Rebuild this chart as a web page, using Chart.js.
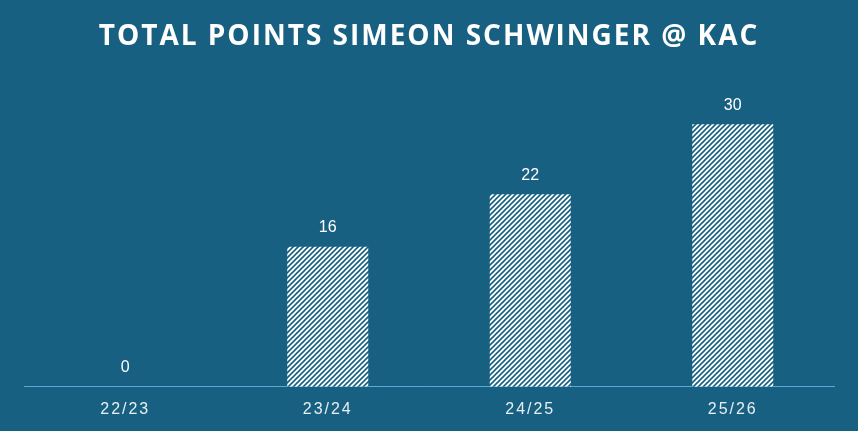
<!DOCTYPE html>
<html>
<head>
<meta charset="utf-8">
<script src="https://cdn.jsdelivr.net/npm/chart.js@4"></script>
<style>
  html, body { margin: 0; padding: 0; background: #176081; }
  #wrap { width: 858px; height: 431px; }
</style>
</head>
<body>
<div id="wrap"><canvas id="pointsChart"></canvas></div>
<script>
var seasons = ['22/23', '23/24', '24/25', '25/26'];
var points = [0, 16, 22, 30];

var bgColor = '#176081';

// white hatch with dark diagonal stripes
function makeHatch() {
    var size = 5;
    var c = document.createElement('canvas');
    c.width = size;
    c.height = size;
    var g = c.getContext('2d');
    g.fillStyle = '#ffffff';
    g.fillRect(0, 0, size, size);
    g.strokeStyle = bgColor;
    g.lineWidth = 1.6;
    g.beginPath();
    g.moveTo(0, size); g.lineTo(size, 0);
    g.moveTo(-size / 2, size / 2); g.lineTo(size / 2, -size / 2);
    g.moveTo(size / 2, size * 1.5); g.lineTo(size * 1.5, size / 2);
    g.stroke();
    return g.createPattern(c, 'repeat');
}

// value labels above each bar, then wider spacing for the x ticks (drawn after, z: 1)
var valueLabels = {
    id: 'valueLabels',
    afterDatasetsDraw: function(chart) {
        var ctx = chart.ctx;
        var meta = chart.getDatasetMeta(0);
        ctx.save();
        ctx.letterSpacing = '0px';
        ctx.fillStyle = '#ffffff';
        ctx.font = '16px "Liberation Sans"';
        ctx.textAlign = 'center';
        ctx.textBaseline = 'middle';
        meta.data.forEach(function(bar, i) {
            ctx.fillText(points[i], bar.x, bar.y - 19);
        });
        ctx.restore();
        ctx.letterSpacing = '3.5px';
    }
};

var spacing = {
    id: 'spacing',
    beforeDraw: function(chart) {
        chart.ctx.letterSpacing = '2px';
    }
};

var ctx = document.getElementById('pointsChart').getContext('2d');
var chart = new Chart(ctx, {
    type: 'bar',
    data: {
        labels: seasons,
        datasets: [{
            label: 'Total points',
            data: points,
            backgroundColor: makeHatch(),
            borderWidth: 0,
            barPercentage: 0.4,
            categoryPercentage: 1.0
        }]
    },
    options: {
        responsive: true,
        maintainAspectRatio: false,
        animation: false,
        layout: {
            padding: { left: 24, right: 24, top: 0, bottom: 7 }
        },
        plugins: {
            legend: { display: false },
            tooltip: { enabled: false },
            title: {
                display: true,
                text: 'TOTAL POINTS SIMEON SCHWINGER @ KAC',
                color: '#ffffff',
                font: { family: 'Open Sans', size: 28, weight: 'bold', lineHeight: 1.2 },
                padding: { top: 20, bottom: 27 }
            }
        },
        scales: {
            x: {
                z: 1,
                grid: { display: false },
                border: { display: true, color: '#5aaad8', width: 1 },
                ticks: {
                    color: '#e8eef2',
                    font: { family: 'Liberation Sans', size: 16 },
                    padding: 5
                }
            },
            y: {
                display: false,
                beginAtZero: true,
                max: 35
            }
        }
    },
    plugins: [spacing, valueLabels]
});
</script>
</body>
</html>
